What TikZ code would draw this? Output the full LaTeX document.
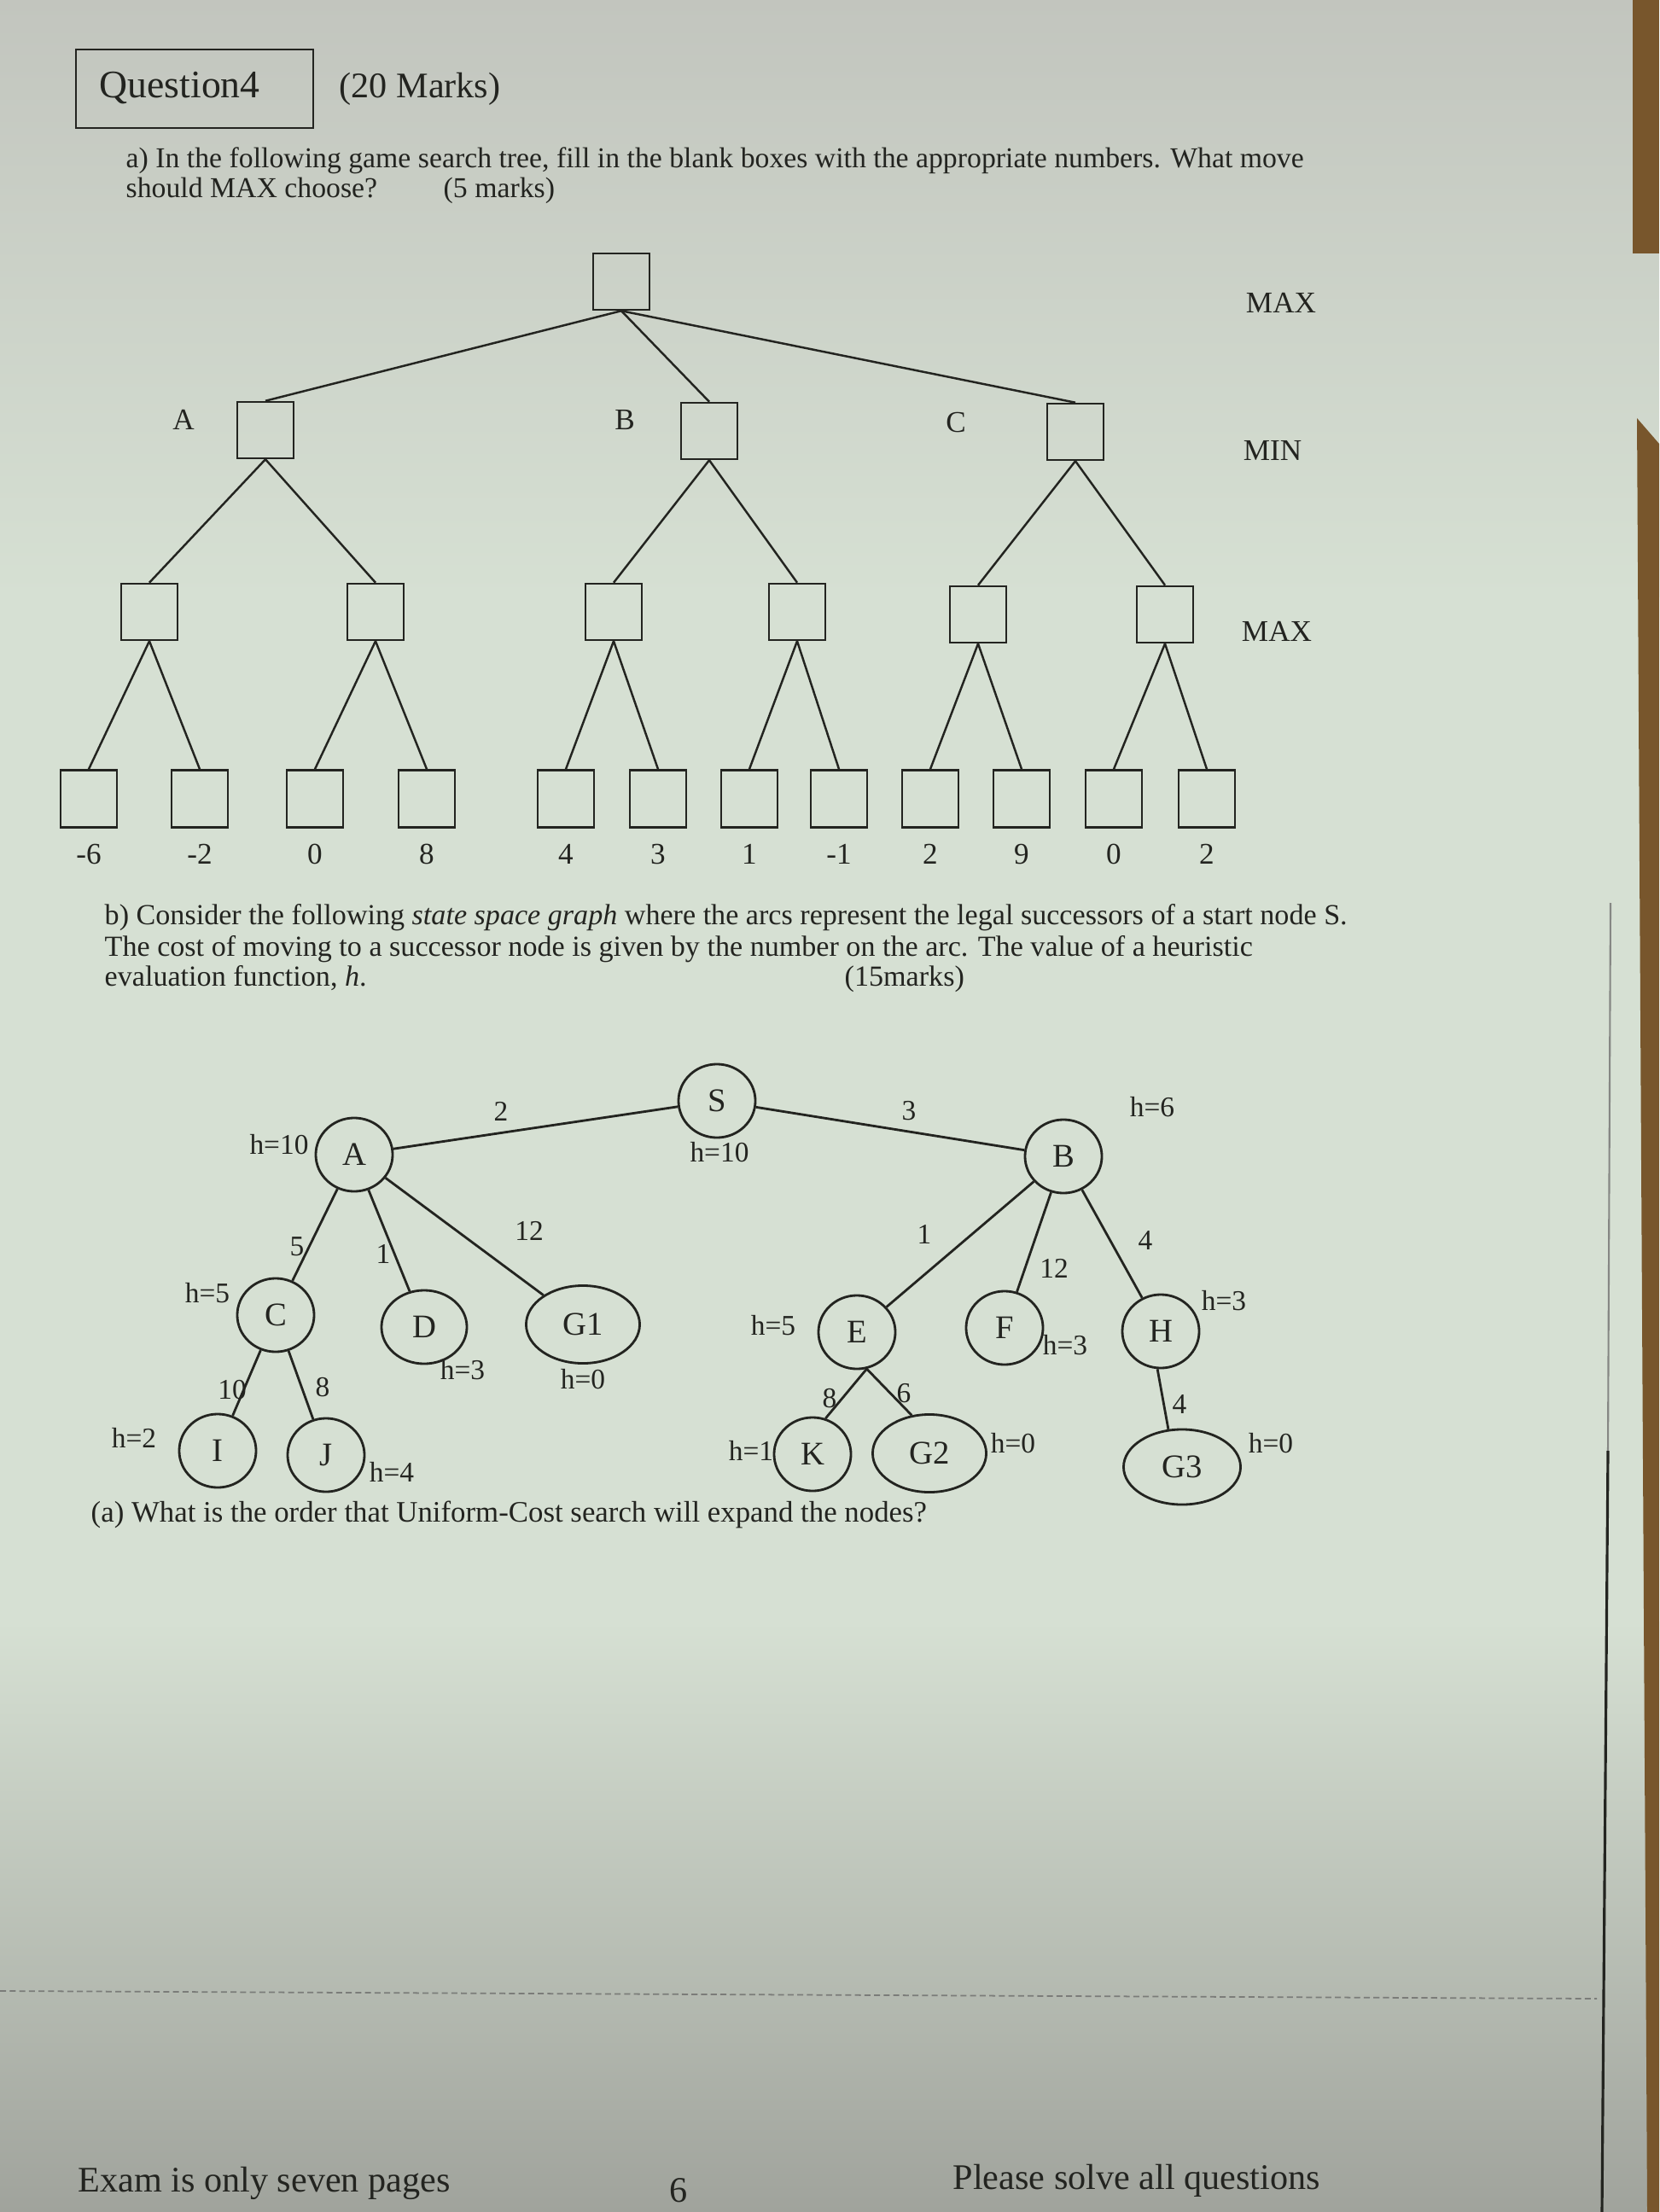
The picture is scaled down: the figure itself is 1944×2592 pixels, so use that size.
\documentclass[tikz,border=0pt]{standalone}
\usepackage{fontspec}
\setmainfont{Liberation Serif}
\usetikzlibrary{shapes.geometric}

\definecolor{ink}{RGB}{35,36,32}
\definecolor{papertop}{RGB}{194,197,190}
\definecolor{papermid}{RGB}{214,224,211}
\definecolor{paperbot}{RGB}{160,163,156}
\definecolor{wood}{RGB}{120,86,44}

\tikzset{
  mmbox/.style={draw=ink, line width=0.7pt, minimum width=0.66cm, minimum height=0.66cm, inner sep=0pt},
  snode/.style={ellipse, draw=ink, line width=0.8pt, minimum width=0.9cm, minimum height=0.86cm, inner sep=0pt, font=\fontsize{11}{13}\selectfont},
  gnode/.style={ellipse, draw=ink, line width=0.8pt, minimum width=1.33cm, minimum height=0.91cm, inner sep=0pt, font=\fontsize{11}{13}\selectfont},
  hval/.style={inner sep=0pt, font=\fontsize{9.5}{11}\selectfont},
  cost/.style={inner sep=0pt, font=\fontsize{9.5}{11}\selectfont},
  lvl/.style={inner sep=0pt, font=\fontsize{10}{12}\selectfont},
  body/.style={anchor=base west, inner sep=0pt, font=\fontsize{9.7}{12}\selectfont},
  foot/.style={inner sep=0pt, font=\fontsize{12}{14}\selectfont},
}

\begin{document}
\begin{tikzpicture}[x=0.01cm, y=-0.01cm, text=ink]
\useasboundingbox (0,0) rectangle (1944,2592);
\fill[papermid] (0,0) rectangle (1944,2592);
\shade[top color=papertop, bottom color=papermid] (0,0) rectangle (1944,700);
\shade[top color=papermid, bottom color=paperbot] (0,1900) rectangle (1944,2592);
% edge of the sheet
\fill[wood] (1913,0) -- (1944,0) -- (1944,297) -- (1913,297) -- cycle;
\fill[wood] (1918,490) -- (1944,520) -- (1944,2592) -- (1930,2592) -- cycle;
\draw[ink!55, line width=0.6pt] (1887,1058) -- (1884,1700);
\draw[ink, line width=0.9pt] (1884,1700) -- (1877,2592);
\draw[ink!60, line width=0.5pt, dash pattern=on 2pt off 1.2pt] (0,2333) -- (1871,2342);

% heading
\node[draw=ink, line width=0.6pt, minimum width=2.77cm, minimum height=0.92cm] (qbox) at (228,104) {};
\node[foot, anchor=base west, font=\fontsize{13}{15}\selectfont] (qname) at (116,115) {Question4};
\node[foot, anchor=base west] (qmarks) at (397,115) {(20 Marks)};
\node[body, font=\fontsize{9.6}{12}\selectfont] (ta1) at (147,197) {a) In the following game search tree, fill in the blank boxes with the appropriate numbers. What move};
\node[body, font=\fontsize{9.6}{12}\selectfont] (ta2) at (147,232) {should MAX choose?};
\node[body, font=\fontsize{9.6}{12}\selectfont] (ta3) at (519,232) {(5 marks)};

% game tree
\node[mmbox] (r) at (728,330) {};
\node[mmbox] (a) at (311,504) {};
\node[mmbox] (b) at (831,505) {};
\node[mmbox] (c) at (1260,506) {};
\foreach \n/\x/\y in {a1/175/717, a2/440/717, b1/719/717, b2/934/717, c1/1146/720, c2/1365/720}
  \node[mmbox] (\n) at (\x,\y) {};
\foreach \i/\x/\v in {1/104/-6, 2/234/-2, 3/369/0, 4/500/8, 5/663/4, 6/771/3, 7/878/1, 8/983/-1, 9/1090/2, 10/1197/9, 11/1305/0, 12/1414/2}
{
  \node[mmbox, minimum height=0.67cm] (l\i) at (\x,936) {};
  \node[lvl, anchor=base] (v\i) at (\x,1012) {\v};
}
\foreach \p/\c in {r/a, r/b, r/c, a/a1, a/a2, b/b1, b/b2, c/c1, c/c2,
                   a1/l1, a1/l2, a2/l3, a2/l4, b1/l5, b1/l6, b2/l7, b2/l8, c1/l9, c1/l10, c2/l11, c2/l12}
  \draw[ink, line width=0.7pt] (\p.south) -- (\c.north);
\node[lvl] (la) at (215,492) {A};
\node[lvl] (lb) at (732,492) {B};
\node[lvl] (lc) at (1120,495) {C};
\node[lvl] (max1) at (1501,355) {MAX};
\node[lvl] (min1) at (1491,528) {MIN};
\node[lvl] (max2) at (1496,740) {MAX};

% part b
\node[body] (tb1) at (122,1083) {b) Consider the following \textit{state space graph} where the arcs represent the legal successors of a start node S.};
\node[body] (tb2) at (122,1120) {The cost of moving to a successor node is given by the number on the arc. The value of a heuristic};
\node[body] (tb3) at (122,1155) {evaluation function, \textit{h}.};
\node[body] (tb4) at (989,1155) {(15marks)};

% state space graph
\node[snode] (S) at (840,1290) {S};
\node[snode] (A) at (415,1353) {A};
\node[snode] (B) at (1246,1355) {B};
\node[snode] (C) at (323,1541) {C};
\node[snode, minimum width=1cm] (D) at (497,1555) {D};
\node[gnode] (G1) at (683,1552) {G1};
\node[snode] (I) at (255,1700) {I};
\node[snode] (J) at (382,1705) {J};
\node[snode] (E) at (1004,1561) {E};
\node[snode] (F) at (1177,1556) {F};
\node[snode] (H) at (1360,1560) {H};
\node[snode] (K) at (952,1704) {K};
\node[gnode] (G2) at (1089,1703) {G2};
\node[gnode, minimum width=1.37cm, minimum height=0.88cm] (G3) at (1385,1719) {G3};
\foreach \p/\c in {S/A, S/B, A/C, A/D, A/G1, C/I, C/J, B/E, B/F, B/H}
  \draw[ink, line width=0.8pt] (\p) -- (\c);
\draw[ink, line width=0.8pt] (E.-75) -- (K.70);
\draw[ink, line width=0.8pt] (E.-75) -- (G2.115);
\draw[ink, line width=0.8pt] (H.-95) -- (G3.110);

% costs on the arcs
\foreach \x/\y/\w in {587/1302/2, 1065/1302/3, 348/1461/5, 449/1469/1, 620/1442/12,
                      272/1629/10, 378/1626/8, 1083/1446/1, 1235/1486/12, 1342/1453/4,
                      972/1639/8, 1059/1633/6, 1382/1645/4}
  \node[cost] at (\x,\y) {\w};

% heuristic values
\foreach \x/\y/\w in {327/1341/10, 843/1350/10, 1350/1297/6, 243/1515/5, 542/1605/3,
                      683/1616/0, 157/1685/2, 459/1725/4, 906/1553/5, 1248/1576/3,
                      1434/1524/3, 880/1700/1, 1187/1691/0, 1489/1691/0}
  \node[hval] at (\x,\y) {h=\w};

\node[body, font=\fontsize{9.9}{12}\selectfont] (tq) at (106,1783) {(a) What is the order that Uniform-Cost search will expand the nodes?};

% footer
\node[foot, anchor=base west] (f1) at (91,2568) {Exam is only seven pages};
\node[foot, anchor=base] (f2) at (795,2580) {6};
\node[foot, anchor=base west] (f3) at (1116,2565) {Please solve all questions};
\end{tikzpicture}
\end{document}
